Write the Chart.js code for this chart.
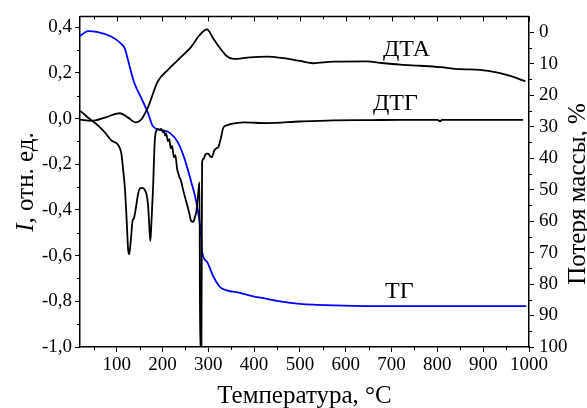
<!DOCTYPE html>
<html lang="ru">
<head>
  <meta charset="UTF-8" />
  <title>ДТА / ДТГ / ТГ</title>
  <script src="https://cdn.jsdelivr.net/npm/chart.js"></script>
  <style>
    body { margin: 0; padding: 0; background: #fff; }
    canvas { display: block; }
  </style>
</head>
<body>
  <canvas id="thermo" width="587" height="408"></canvas>
  <script>
    // temperature, °C -> DTA signal (left axis)
    const dtaT = [20, 45, 74, 107, 125, 141, 154, 168, 190, 212, 234, 263, 278, 292, 297, 311, 326, 340, 355, 391, 428, 464, 500, 529, 573, 646, 679, 719, 762, 806, 850, 893, 937, 966, 992];
    const dtaV = [-0.005, -0.01, 0.004, 0.023, 0.004, -0.017, -0.003, 0.048, 0.163, 0.213, 0.257, 0.315, 0.358, 0.386, 0.39, 0.35, 0.307, 0.274, 0.261, 0.268, 0.271, 0.264, 0.252, 0.242, 0.249, 0.25, 0.243, 0.236, 0.231, 0.225, 0.216, 0.213, 0.199, 0.182, 0.163];

    // DTG signal (left axis)
    const dtgT = [20, 23, 40, 59, 74, 88, 103, 110, 114, 118, 122, 125, 127.5, 131, 135, 137, 140, 143, 147, 152, 158, 162, 165, 168.5, 171, 173.5, 176, 179.4, 183, 186.6, 190, 194, 197, 201, 203, 206, 208, 212, 215, 218, 221, 225, 228, 232, 236, 241, 246, 252, 258, 263, 267, 271, 274, 277, 279, 281, 282, 285, 286.5, 290, 293, 297, 300, 304, 308, 313, 318, 322, 327, 333, 340, 348, 377, 428, 500, 573, 650, 719, 800, 806, 810, 900, 987];
    const dtgV = [0.033, 0.029, 0.0, -0.03, -0.06, -0.095, -0.115, -0.15, -0.22, -0.306, -0.45, -0.573, -0.594, -0.53, -0.445, -0.44, -0.415, -0.378, -0.328, -0.305, -0.305, -0.315, -0.33, -0.378, -0.46, -0.537, -0.45, -0.306, -0.104, -0.053, -0.046, -0.05, -0.045, -0.06, -0.052, -0.075, -0.065, -0.1, -0.09, -0.13, -0.12, -0.17, -0.16, -0.22, -0.25, -0.277, -0.32, -0.364, -0.41, -0.45, -0.452, -0.43, -0.407, -0.35, -0.306, -0.28, -1.0, -1.0, -0.19, -0.176, -0.161, -0.154, -0.154, -0.165, -0.169, -0.14, -0.13, -0.125, -0.09, -0.039, -0.03, -0.025, -0.017, -0.02, -0.013, -0.008, -0.007, -0.006, -0.006, -0.012, -0.006, -0.006, -0.006];

    // TG, mass loss % (right axis)
    const tgT = [20, 21.5, 30, 37.5, 59, 88, 110, 118, 128.5, 139, 154, 168.5, 179, 197.5, 216, 234, 248.6, 263, 274, 281, 284.8, 286, 297, 311, 326, 340, 369, 398, 428, 457, 500, 537, 573, 650, 750, 850, 994];
    const tgV = [1.3, 1.07, 0.2, -0.3, 0, 1.4, 3.7, 5.3, 11, 16.3, 21, 25.7, 29.9, 31.1, 32, 35.1, 40.4, 47.7, 54, 60.3, 65.5, 69.2, 72.9, 77.6, 81, 82, 82.8, 83.9, 84.7, 85.5, 86.3, 86.6, 86.8, 87, 87, 87, 87];

    // axis ticks
    const tempTicks = [100, 200, 300, 400, 500, 600, 700, 800, 900, 1000];
    const tempMinor = [50, 150, 250, 350, 450, 550, 650, 750, 850, 950];
    const intTicks = [-1.0, -0.8, -0.6, -0.4, -0.2, 0.0, 0.2, 0.4];
    const intMinor = [-0.9, -0.7, -0.5, -0.3, -0.1, 0.1, 0.3];
    const lossTicks = [0, 10, 20, 30, 40, 50, 60, 70, 80, 90, 100];
    const lossMinor = [5, 15, 25, 35, 45, 55, 65, 75, 85, 95];

    const SERIF = "'Liberation Serif', 'Times New Roman', serif";

    const pts = (xs, ys) => xs.map((x, i) => ({ x: x, y: ys[i] }));
    const setTicks = arr => scale => { scale.ticks = arr.map(v => ({ value: v })); };

    // minor ticks, top frame line, titles and curve labels
    const decor = {
      id: 'decor',
      afterDraw(chart) {
        const ctx = chart.ctx;
        const a = chart.chartArea;
        const x = chart.scales.x, y = chart.scales.y, y2 = chart.scales.y2;
        ctx.save();
        ctx.strokeStyle = '#000';
        ctx.lineWidth = 1.5;
        ctx.beginPath();
        ctx.moveTo(a.left, a.top);
        ctx.lineTo(a.right, a.top);
        ctx.stroke();

        ctx.lineWidth = 1;
        ctx.beginPath();
        tempTicks.forEach(v => {
          const px = Math.round(x.getPixelForValue(v)) + 0.5;
          ctx.moveTo(px, a.top); ctx.lineTo(px, a.top + 5);
        });
        tempMinor.forEach(v => {
          const px = Math.round(x.getPixelForValue(v)) + 0.5;
          ctx.moveTo(px, a.top); ctx.lineTo(px, a.top + 3);
          ctx.moveTo(px, a.bottom); ctx.lineTo(px, a.bottom + 3);
        });
        intMinor.forEach(v => {
          const py = Math.round(y.getPixelForValue(v)) + 0.5;
          ctx.moveTo(a.left, py); ctx.lineTo(a.left - 3, py);
        });
        lossMinor.forEach(v => {
          const py = Math.round(y2.getPixelForValue(v)) + 0.5;
          ctx.moveTo(a.right, py); ctx.lineTo(a.right + 3, py);
        });
        ctx.stroke();

        ctx.fillStyle = '#000';
        ctx.textBaseline = 'alphabetic';

        // x title
        ctx.font = '25px ' + SERIF;
        ctx.textAlign = 'center';
        ctx.fillText('Температура, °C', (a.left + a.right) / 2, 403);

        // left title with italic I
        ctx.save();
        ctx.translate(33, 182);
        ctx.rotate(-Math.PI / 2);
        ctx.textAlign = 'left';
        ctx.font = 'italic 25px ' + SERIF;
        const wI = ctx.measureText('I').width;
        ctx.font = '25px ' + SERIF;
        const rest = ', отн. ед.';
        const wR = ctx.measureText(rest).width;
        const x0 = -(wI + wR) / 2;
        ctx.font = 'italic 25px ' + SERIF;
        ctx.fillText('I', x0, 0);
        ctx.font = '25px ' + SERIF;
        ctx.fillText(rest, x0 + wI, 0);
        ctx.restore();

        // right title
        ctx.save();
        ctx.translate(585, 194);
        ctx.rotate(-Math.PI / 2);
        ctx.textAlign = 'center';
        ctx.font = '25px ' + SERIF;
        ctx.fillText('Потеря массы, %', 0, 0);
        ctx.restore();

        // curve labels
        ctx.font = '24px ' + SERIF;
        ctx.textAlign = 'left';
        ctx.fillText('ДТА', 383, 56);
        ctx.fillText('ДТГ', 373, 110);
        ctx.fillText('ТГ', 385, 298);
        ctx.restore();
      }
    };

    const tickFont = { family: SERIF, size: 19 };
    const axisGrid = { display: true, drawOnChartArea: false, drawTicks: true, tickLength: 5, color: '#000', lineWidth: 1 };
    const axisBorder = { display: true, color: '#000', width: 1.5 };

    new Chart(document.getElementById('thermo'), {
      type: 'line',
      data: {
        datasets: [
          { label: 'ДТА', data: pts(dtaT, dtaV), yAxisID: 'y', borderColor: '#000', borderWidth: 1.8 },
          { label: 'ДТГ', data: pts(dtgT, dtgV), yAxisID: 'y', borderColor: '#000', borderWidth: 1.8 },
          { label: 'ТГ', data: pts(tgT, tgV), yAxisID: 'y2', borderColor: '#0000ff', borderWidth: 1.8 }
        ]
      },
      options: {
        responsive: false,
        animation: false,
        devicePixelRatio: 1,
        layout: { padding: { top: 12, left: 0, right: 0, bottom: 0 } },
        elements: {
          point: { radius: 0 },
          line: { cubicInterpolationMode: 'monotone', fill: false }
        },
        plugins: { legend: { display: false }, tooltip: { enabled: false } },
        scales: {
          x: {
            type: 'linear', position: 'bottom', min: 20, max: 1000,
            afterBuildTicks: setTicks(tempTicks),
            afterFit: s => { s.height = 61; },
            grid: axisGrid, border: axisBorder,
            ticks: { font: tickFont, color: '#000', padding: 2, autoSkip: false, maxRotation: 0, callback: v => String(v) }
          },
          y: {
            type: 'linear', position: 'left', min: -1.0, max: 0.447,
            afterBuildTicks: setTicks(intTicks),
            afterFit: s => { s.width = 80; },
            grid: axisGrid, border: axisBorder,
            ticks: { font: tickFont, color: '#000', padding: 3, autoSkip: false, callback: v => v.toFixed(1).replace('.', ',') }
          },
          y2: {
            type: 'linear', position: 'right', min: -5, max: 100, reverse: true,
            afterBuildTicks: setTicks(lossTicks),
            afterFit: s => { s.width = 58; },
            grid: axisGrid, border: axisBorder,
            ticks: { font: tickFont, color: '#000', padding: 5, autoSkip: false, callback: v => String(v) }
          }
        }
      },
      plugins: [decor]
    });
  </script>
</body>
</html>
